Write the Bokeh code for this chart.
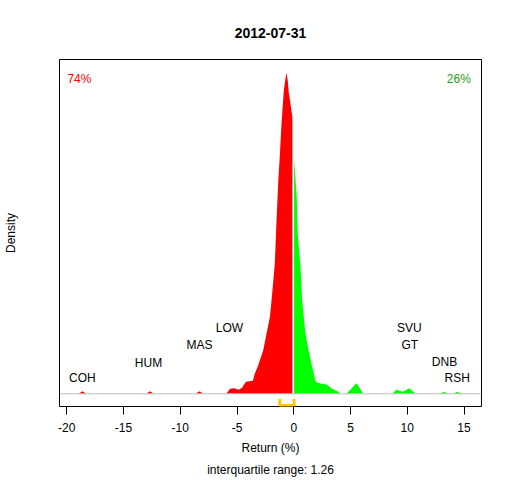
from bokeh.plotting import figure
from bokeh.models import Range1d, FixedTicker, Span, Title
from bokeh.core.properties import value
from bokeh.embed import file_html
from bokeh.resources import INLINE

# ---- data ----
chart_title = "2012-07-31"
neg_x = [-18.94, -18.62, -18.29, -12.98, -12.67, -12.36, -8.66, -8.31, -7.98,
         -5.95, -5.6, -5.25, -4.85, -4.55, -4.4, -4.2, -3.6, -3.44, -3.18, -2.7,
         -2.4, -2.1, -1.96, -1.67, -1.52, -1.44, -1.35, -1.24, -1.08, -1.0, -0.88,
         -0.76, -0.64, -0.53, -0.44, -0.35, -0.29, -0.14, -0.12]
neg_d = [0.0, 0.0036, 0.0, 0.0, 0.0036, 0.0, 0.0, 0.0036, 0.0,
         0.0, 0.0071, 0.0079, 0.0057, 0.0086, 0.0129, 0.0171, 0.0186, 0.0286, 0.0386, 0.0614,
         0.0857, 0.11, 0.1329, 0.1857, 0.2471, 0.2757, 0.3086, 0.3371, 0.3857, 0.4043, 0.4329,
         0.4471, 0.4586, 0.4471, 0.43, 0.4214, 0.4143, 0.3971, 0.3971]
pos_x = [0.03, 0.15, 0.26, 0.35, 0.59, 0.74, 1.03, 1.32, 1.62, 1.91, 2.06, 2.94, 3.38,
         3.94, 4.11, 4.64, 5.52, 6.14, 8.67, 9.05, 9.6, 10.19, 10.72, 12.93, 13.19, 13.63,
         14.07, 14.4, 14.84]
pos_d = [0.3343, 0.3071, 0.2814, 0.2286, 0.1814, 0.1329, 0.0857, 0.0614, 0.0386, 0.0186,
         0.0157, 0.0129, 0.0071, 0.0029, 0.0, 0.0, 0.015, 0.0, 0.0, 0.0057, 0.0029, 0.0079,
         0.0, 0.0, 0.0029, 0.0, 0.0, 0.0029, 0.0]
stock_names = ["COH", "HUM", "MAS", "LOW", "SVU", "GT", "DNB", "RSH"]
stock_x = [-18.62, -12.8, -8.31, -5.67, 10.19, 10.22, 13.28, 14.4]
stock_y = [0.0233, 0.0447, 0.0704, 0.0947, 0.0947, 0.0704, 0.0461, 0.0219]
neg_share = "74%"
pos_share = "26%"
iqr_low = -1.23
iqr_high = 0.03
iqr_text = "interquartile range: 1.26"
tick_values = [-20, -15, -10, -5, 0, 5, 10, 15]
tick_labels = ["-20", "-15", "-10", "-5", "0", "5", "10", "15"]

FONT = "Liberation Sans"

p = figure(frame_width=422, frame_height=347, output_backend="svg", toolbar_location=None,
           x_range=Range1d(-20.64, 16.54), y_range=Range1d(-0.0181, 0.4776),
           min_border_left=59, min_border_right=31, min_border_top=59, min_border_bottom=74)
p.background_fill_color = "white"
p.border_fill_color = "white"
p.grid.visible = False
p.outline_line_color = "black"
p.outline_line_width = 1
p.outline_line_alpha = 1

p.title.text = chart_title
p.title.align = "center"
p.title.vertical_align = "top"
p.title.text_font = FONT
p.title.text_font_size = "14px"
p.title.text_font_style = "bold"
p.title.text_color = "black"
p.title.standoff = 40

# density areas
p.varea(x=neg_x, y1=0, y2=neg_d, fill_color="#FF0000")
p.varea(x=pos_x, y1=0, y2=pos_d, fill_color="#00FF00")

p.add_layout(Span(location=0, dimension="width", line_color="#BEBEBE", line_width=1))

# interquartile range bracket
p.line(x=[iqr_low, iqr_low, iqr_high, iqr_high], y=[-0.0074, -0.0165, -0.0165, -0.0074],
       line_color="#FFC800", line_width=3)

# stock labels
p.text(x=stock_x, y=stock_y, text=stock_names, text_font=value(FONT), text_font_size="12px",
       text_align="center", text_baseline="middle", text_color="black")

p.text(x=[-19.94], y=[0.45], text=[neg_share], text_font=value(FONT), text_font_size="12px",
       text_align="left", text_baseline="middle", text_color="#FF0000")
p.text(x=[15.6], y=[0.45], text=[pos_share], text_font=value(FONT), text_font_size="12px",
       text_align="right", text_baseline="middle", text_color="#22A022")

# x axis
xa = p.xaxis[0]
xa.ticker = FixedTicker(ticks=tick_values)
xa.major_label_overrides = {v: s for v, s in zip(tick_values, tick_labels)}
xa.axis_line_color = None
xa.major_tick_out = 8
xa.major_tick_in = 0
xa.major_tick_line_color = "black"
xa.minor_tick_line_color = None
xa.major_label_standoff = 8
xa.major_label_text_font = FONT
xa.major_label_text_font_size = "12px"
xa.major_label_text_color = "black"
xa.axis_label = "Return (%)"
xa.axis_label_text_font = FONT
xa.axis_label_text_font_size = "12px"
xa.axis_label_text_font_style = "normal"
xa.axis_label_text_color = "black"
xa.axis_label_standoff = 6

t2 = Title(text=iqr_text, align="center", text_font=FONT, text_font_size="12px",
           text_font_style="normal", text_color="black", standoff=6)
p.add_layout(t2, "below")

# y axis: label only
ya = p.yaxis[0]
ya.ticker = FixedTicker(ticks=[])
ya.axis_line_color = None
ya.major_tick_line_color = None
ya.minor_tick_line_color = None
ya.major_label_standoff = 0
ya.axis_label = "Density"
ya.axis_label_text_font = FONT
ya.axis_label_text_font_size = "12px"
ya.axis_label_text_font_style = "normal"
ya.axis_label_text_color = "black"
ya.axis_label_standoff = 42

open("out.html", "w").write(file_html(p, INLINE))
